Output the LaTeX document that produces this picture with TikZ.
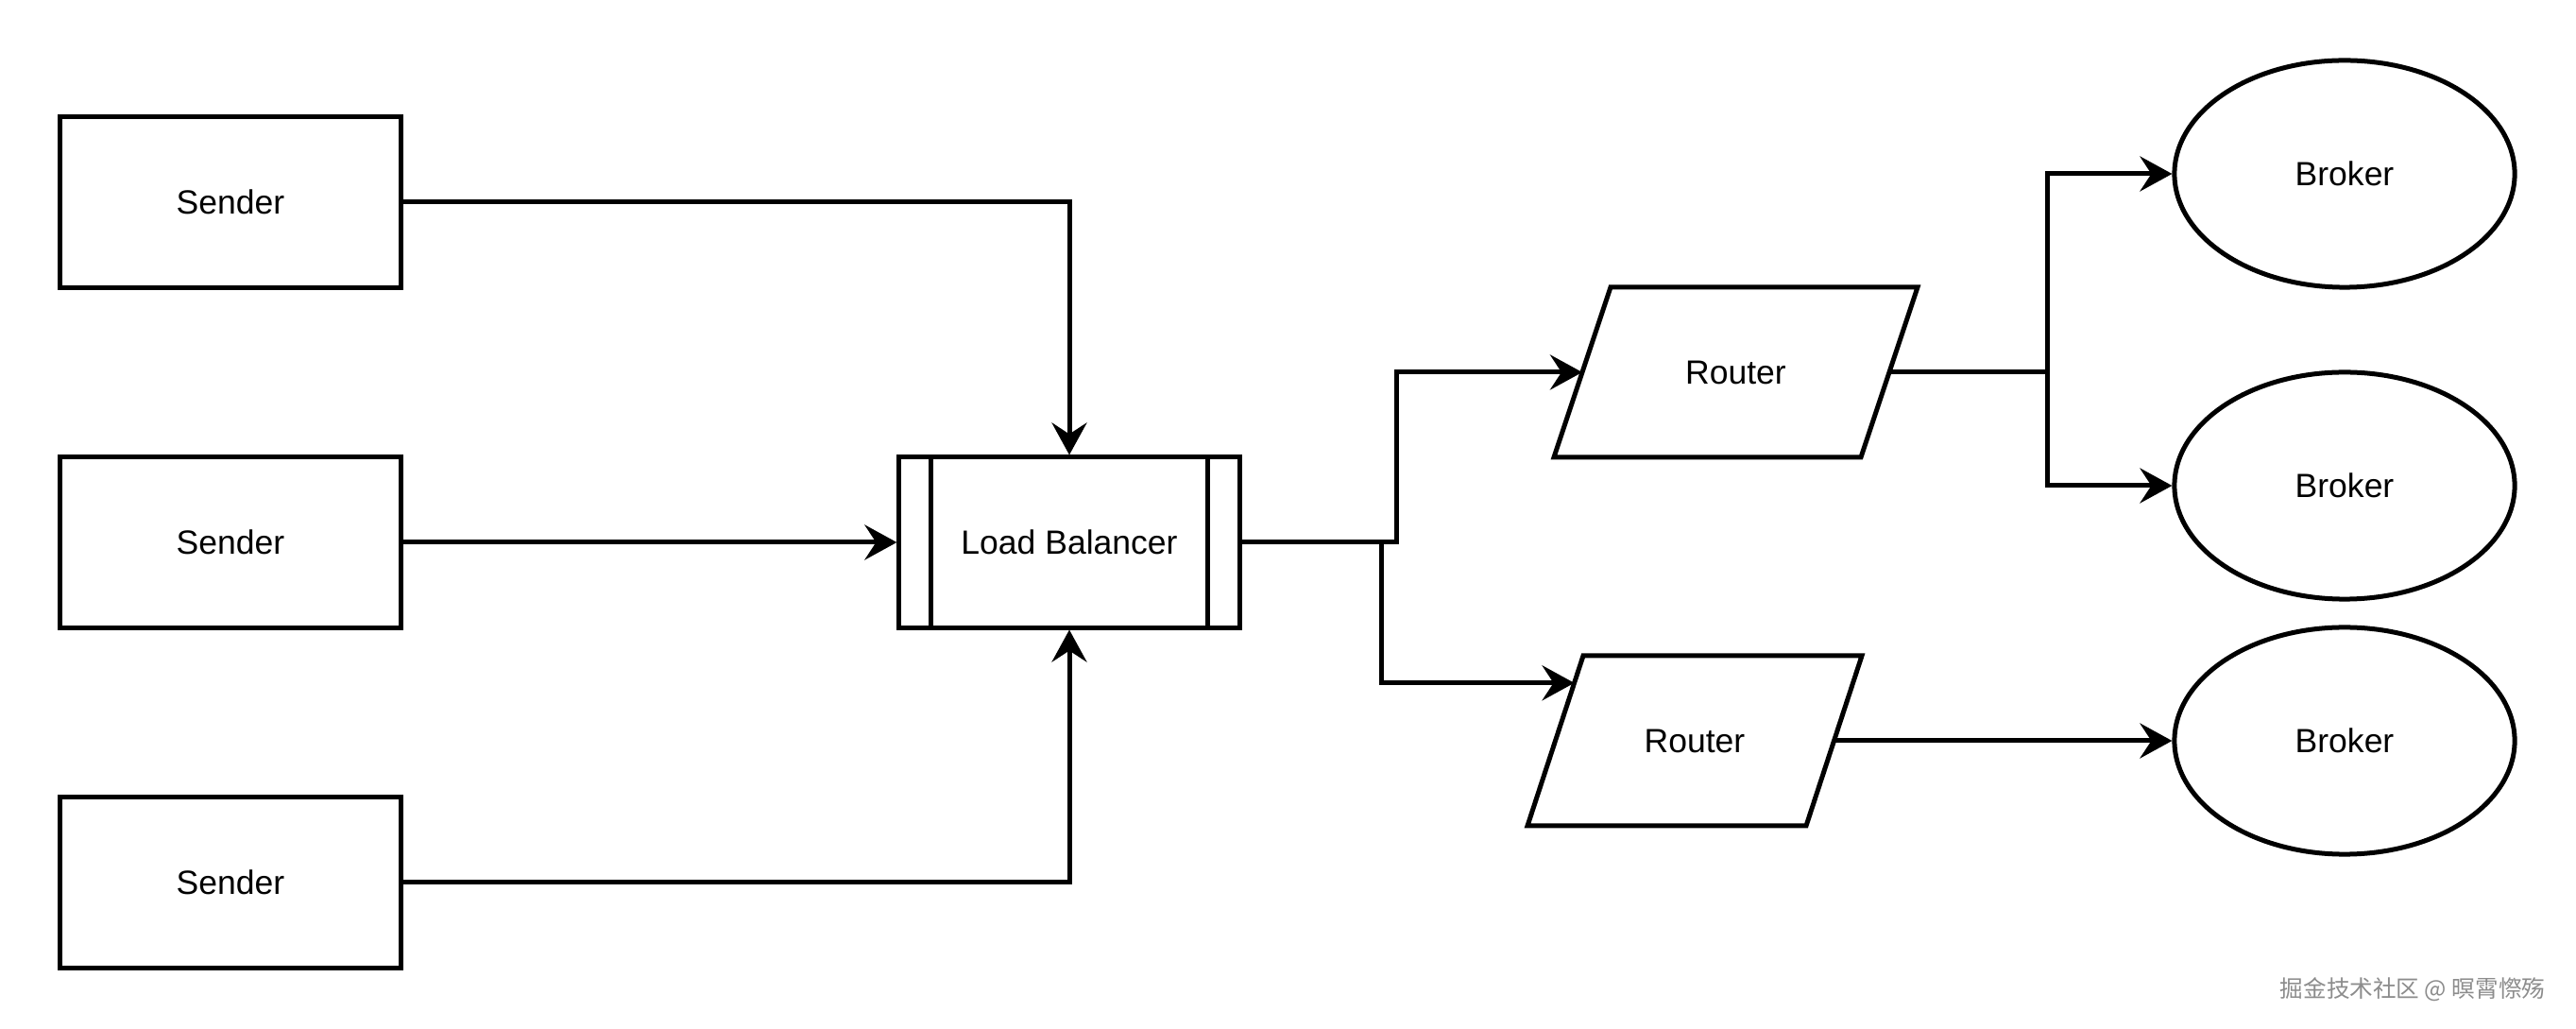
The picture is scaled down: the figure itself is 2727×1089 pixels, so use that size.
\documentclass[tikz,border=0pt]{standalone}
\usepackage{fontspec}
\setmainfont{Liberation Sans}
\newfontfamily\cjk{Noto Sans CJK SC}
\usetikzlibrary{arrows.meta,shapes.geometric,calc}
\begin{document}
\begin{tikzpicture}[x=0.01cm,y=-0.01cm,
  every node/.style={font=\fontsize{10.1}{12}\selectfont},
  boxnode/.style={draw, line width=0.05cm, rectangle, minimum width=3.6cm, minimum height=1.8cm, inner sep=0pt, fill=white},
  brokernode/.style={draw, line width=0.05cm, ellipse, minimum width=3.6cm, minimum height=2.4cm, inner sep=0pt, fill=white},
  outline/.style={draw, line width=0.05cm, line join=miter},
  conn/.style={line width=0.05cm, -{Stealth[length=0.34cm,width=0.37cm,inset=0.12cm]}},
  plainconn/.style={line width=0.05cm}
]
\useasboundingbox[fill=white] (0,0) rectangle (2727,1089);

% senders
\node[boxnode] (s1) at (244,214) {Sender};
\node[boxnode] (s2) at (244,574) {Sender};
\node[boxnode] (s3) at (244,934) {Sender};

% load balancer
\node[boxnode] (lb) at (1132,574) {Load Balancer};
\draw[outline] ([xshift=0.36cm]lb.north west) -- ([xshift=0.36cm]lb.south west);
\draw[outline] ([xshift=-0.36cm]lb.north east) -- ([xshift=-0.36cm]lb.south east);

% routers (parallelograms)
\coordinate (r1tl) at (1705,304);
\coordinate (r1tr) at (2030,304);
\coordinate (r1br) at (1970,484);
\coordinate (r1bl) at (1645,484);
\draw[outline] (r1tl) -- (r1tr) -- (r1br) -- (r1bl) -- cycle;
\node (r1) at (1837.5,394) {Router};

\coordinate (r2tl) at (1676,694);
\coordinate (r2tr) at (1971,694);
\coordinate (r2br) at (1912,874);
\coordinate (r2bl) at (1617,874);
\draw[outline] (r2tl) -- (r2tr) -- (r2br) -- (r2bl) -- cycle;
\node (r2) at (1794,784) {Router};

\coordinate (r1in) at ($(r1tl)!0.5!(r1bl)$);
\coordinate (r1out) at ($(r1tr)!0.5!(r1br)$);
\coordinate (r2in) at ($(r2tl)!0.16!(r2bl)$);
\coordinate (r2out) at ($(r2tr)!0.5!(r2br)$);

% brokers
\node[brokernode] (b1) at (2482,184) {Broker};
\node[brokernode] (b2) at (2482,514) {Broker};
\node[brokernode] (b3) at (2482,784) {Broker};

% junctions
\coordinate (j1) at (1478,574);
\coordinate (j2) at (1462,574);
\coordinate (j3) at (2167,394);

% connectors
\draw[conn] (s1.east) -| (lb.north);
\draw[conn] (s2.east) -- (lb.west);
\draw[conn] (s3.east) -| (lb.south);

\draw[conn] (lb.east) -- (j1) |- (r1in);
\draw[conn] (lb.east) -- (j2) |- (r2in);

\draw[conn] (r1out) -- (j3) |- (b1.west);
\draw[conn] (r1out) -- (j3) |- (b2.west);
\draw[conn] (r2out) -- (b3.west);

% watermark
\node[font=\cjk\fontsize{7}{8}\selectfont, text=black!45, anchor=center] (wm) at (2554,1047) {掘金技术社区 @ 暝霄憏殇};
\end{tikzpicture}
\end{document}
